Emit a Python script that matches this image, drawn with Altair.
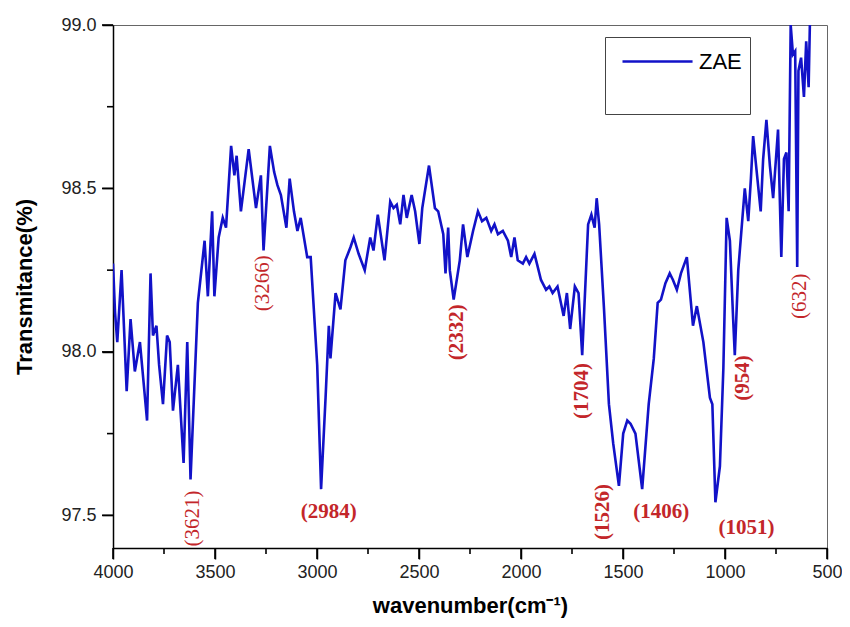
import altair as alt
import pandas as pd

# ---- spectrum ----
wavenumber = [4000, 3990, 3979, 3958, 3933, 3914, 3893, 3868, 3833, 3816, 3804, 3787, 3774, 3755,
              3735, 3722, 3706, 3682, 3654, 3636, 3620, 3584, 3551, 3535, 3514, 3503, 3482, 3462,
              3446, 3421, 3405, 3394, 3373, 3335, 3299, 3275, 3262, 3231, 3210, 3194, 3177, 3150,
              3134, 3113, 3096, 3080, 3048, 3031, 2999, 2980, 2958, 2942, 2934, 2909, 2885, 2861,
              2836, 2820, 2796, 2766, 2739, 2723, 2702, 2669, 2641, 2625, 2609, 2592, 2576, 2560,
              2536, 2519, 2498, 2484, 2451, 2422, 2406, 2381, 2370, 2357, 2349, 2330, 2300, 2284,
              2263, 2235, 2211, 2191, 2170, 2146, 2130, 2113, 2089, 2064, 2048, 2032, 2016, 1991,
              1975, 1959, 1934, 1918, 1902, 1877, 1861, 1845, 1821, 1791, 1775, 1759, 1736, 1718,
              1700, 1671, 1655, 1639, 1629, 1617, 1593, 1569, 1548, 1520, 1499, 1479, 1463, 1439,
              1406, 1374, 1349, 1330, 1314, 1292, 1271, 1255, 1236, 1216, 1187, 1157, 1138, 1106,
              1074, 1062, 1047, 1025, 1008, 992, 976, 960, 952, 935, 903, 886, 873, 862, 846, 825,
              813, 797, 780, 764, 740, 724, 711, 699, 688, 678, 667, 656, 646, 640, 627, 613, 602,
              590, 584]
transmittance = [98.27, 98.12, 98.03, 98.25, 97.88, 98.10, 97.94, 98.03, 97.79, 98.24, 98.05, 98.08,
                 97.96, 97.84, 98.05, 98.03, 97.82, 97.96, 97.66, 98.03, 97.61, 98.15, 98.34, 98.17,
                 98.43, 98.17, 98.35, 98.41, 98.38, 98.63, 98.54, 98.60, 98.43, 98.62, 98.44, 98.54,
                 98.31, 98.63, 98.55, 98.51, 98.48, 98.38, 98.53, 98.43, 98.37, 98.41, 98.29, 98.29,
                 97.96, 97.58, 97.86, 98.08, 97.98, 98.18, 98.13, 98.28, 98.32, 98.35, 98.30, 98.25,
                 98.35, 98.31, 98.42, 98.28, 98.46, 98.44, 98.45, 98.39, 98.48, 98.41, 98.48, 98.43,
                 98.33, 98.44, 98.57, 98.44, 98.43, 98.36, 98.24, 98.38, 98.25, 98.16, 98.28, 98.39,
                 98.29, 98.37, 98.43, 98.40, 98.41, 98.37, 98.39, 98.36, 98.37, 98.34, 98.29, 98.35,
                 98.28, 98.27, 98.29, 98.27, 98.30, 98.26, 98.22, 98.19, 98.20, 98.18, 98.20, 98.11,
                 98.18, 98.07, 98.20, 98.18, 97.99, 98.39, 98.42, 98.38, 98.47, 98.39, 98.13, 97.84,
                 97.72, 97.59, 97.75, 97.79, 97.78, 97.75, 97.58, 97.84, 97.98, 98.15, 98.16, 98.21,
                 98.24, 98.22, 98.19, 98.24, 98.29, 98.08, 98.14, 98.03, 97.86, 97.84, 97.54, 97.65,
                 97.95, 98.41, 98.34, 98.10, 97.99, 98.25, 98.50, 98.40, 98.53, 98.66, 98.56, 98.43,
                 98.59, 98.71, 98.57, 98.47, 98.68, 98.29, 98.59, 98.61, 98.43, 99.00, 98.91, 98.92,
                 98.26, 98.86, 98.90, 98.78, 98.95, 98.81, 99.00]
series_name = "ZAE"

# ---- peak annotations ----
peak_text = ["(3621)", "(3266)", "(2984)", "(2332)", "(1704)", "(1526)", "(1406)", "(1051)", "(954)", "(632)"]
peak_label_wn = [3610, 3264, 2942, 2313, 1699, 1596, 1313, 894, 914, 631]
peak_label_t = [97.49, 98.21, 97.51, 98.06, 97.88, 97.51, 97.51, 97.46, 97.92, 98.17]
peak_rotated = [True, True, False, True, True, True, False, False, True, True]
peak_bold = [False, False, True, True, True, True, True, True, True, False]

# ---- axis tick values ----
y_major = [97.5, 98.0, 98.5, 99.0]
y_minor = [97.75, 98.25, 98.75]
x_major = [4000, 3500, 3000, 2500, 2000, 1500, 1000, 500]
x_minor = [3750, 3250, 2750, 2250, 1750, 1250, 750]

spec = pd.DataFrame({"wavenumber": wavenumber, "transmittance": transmittance})
spec["series"] = series_name
labels = pd.DataFrame({"text": peak_text, "wn": peak_label_wn, "t": peak_label_t,
                       "rotated": peak_rotated, "bold": peak_bold})
xt_major = pd.DataFrame({"v": x_major})
xt_minor = pd.DataFrame({"v": x_minor})
yt_major = pd.DataFrame({"v": y_major})
yt_minor = pd.DataFrame({"v": y_minor})

W, H = 714, 523
LINE = "#1212c8"
RED = "#c3262a"

xscale = alt.Scale(domain=[4000, 500], nice=False, zero=False)
yscale = alt.Scale(domain=[97.4, 99.0], nice=False, zero=False)

line = alt.Chart(spec).mark_line(strokeWidth=2.6, clip=True).encode(
    x=alt.X("wavenumber:Q", scale=xscale,
            axis=alt.Axis(title="wavenumber(cm⁻¹)", values=x_major, format="d",
                          ticks=True, tickSize=11, tickColor="#000", tickWidth=1.5,
                          labelFlush=False, labelPadding=4, titlePadding=14, zindex=0)),
    y=alt.Y("transmittance:Q", scale=yscale,
            axis=alt.Axis(title="Transmitance(%)", values=y_major, format=".1f",
                          ticks=True, tickSize=11, tickColor="#000", tickWidth=1.5,
                          labelPadding=6, titlePadding=24, zindex=0)),
    color=alt.Color("series:N", scale=alt.Scale(range=[LINE]),
                    legend=alt.Legend(title=" ", titleOrient="bottom", titleFontSize=22, titlePadding=12,
                                      orient="none", legendX=492, legendY=12,
                                      symbolType="M-1,0H3.67", symbolSize=900, symbolStrokeWidth=2.6,
                                      symbolOffset=8, labelOffset=45, padding=8,
                                      labelFont="Liberation Sans", labelFontSize=22, labelColor="#000",
                                      strokeColor="#444")),
)

# minor ticks (outward), positioned by the shared scales
def xticks(df, length):
    return alt.Chart(df).mark_rule(color="black", strokeWidth=1.6, clip=False).encode(
        x=alt.X("v:Q", scale=xscale, axis=None), y=alt.value(H), y2=alt.value(H + length))

def yticks(df, length):
    return alt.Chart(df).mark_rule(color="black", strokeWidth=1.6, clip=False).encode(
        y=alt.Y("v:Q", scale=yscale, axis=None), x=alt.value(-length), x2=alt.value(0))

def text_layer(flt, angle, weight):
    kw = dict(font="Liberation Serif", fontSize=21, color=RED, fontWeight=weight,
              align="center", baseline="middle")
    if angle:
        kw["angle"] = angle
    return alt.Chart(labels).transform_filter(flt).mark_text(**kw).encode(
        x=alt.X("wn:Q", scale=xscale, axis=None), y=alt.Y("t:Q", scale=yscale, axis=None),
        text="text:N")

t1 = text_layer("datum.rotated && !datum.bold", 270, "normal")
t2 = text_layer("datum.rotated && datum.bold", 270, "bold")
t3 = text_layer("!datum.rotated", 0, "bold")

chart = alt.layer(
    line, t1, t2, t3,
    xticks(xt_major, 11), xticks(xt_minor, 6), yticks(yt_major, 11), yticks(yt_minor, 6),
).resolve_axis(x="independent", y="independent").properties(
    width=W, height=H,
    autosize=alt.AutoSizeParams(type="none"),
    padding={"left": 105, "top": 17, "right": 15, "bottom": 70},
).configure_view(stroke="#666", strokeWidth=1).configure_axis(
    domainColor="#000", domainWidth=1.5, grid=False,
    labelFont="Liberation Sans", labelFontSize=18, labelColor="#222",
    titleFont="Liberation Sans", titleFontSize=22, titleFontWeight="bold", titleColor="#000",
)

chart.save("out.html", embed_options={"renderer": "svg", "actions": False})
